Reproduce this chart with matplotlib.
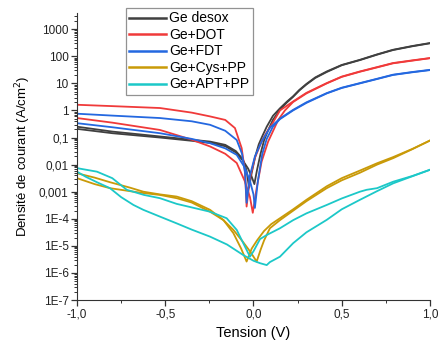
import matplotlib
matplotlib.use("Agg")
import matplotlib.pyplot as plt
from matplotlib.ticker import MultipleLocator, LogLocator, NullFormatter
import numpy as np

plt.rcParams['font.family'] = ['Liberation Sans', 'DejaVu Sans']

# Courbes J(V) : deux balayages par échantillon
# valeurs en log10 de la densité de courant (A/cm2)
v_desox_a = [-1.0, -0.8, -0.53, -0.35, -0.246, -0.16, -0.1, -0.06, -0.04, -0.025, -0.01, 0.01, 0.03, 0.05,
             0.075, 0.11, 0.15, 0.19, 0.224, 0.26, 0.3, 0.35, 0.415, 0.5, 0.603, 0.7, 0.79, 0.9, 1.0]
lj_desox_a = [-0.6, -0.78, -0.96, -1.08, -1.15, -1.27, -1.5, -1.8, -2.2, -2.85, -2.3, -1.7, -1.25, -0.95,
              -0.6, -0.2, 0.08, 0.33, 0.52, 0.76, 0.98, 1.22, 1.44, 1.68, 1.87, 2.07, 2.24, 2.38, 2.49]
v_desox_b = [-1.0, -0.8, -0.53, -0.35, -0.246, -0.16, -0.1, -0.06, -0.03, -0.01, 0.005, 0.02, 0.04, 0.06,
             0.085, 0.11, 0.15, 0.19, 0.224, 0.26, 0.3, 0.35, 0.415, 0.5, 0.603, 0.7, 0.79, 0.9, 1.0]
lj_desox_b = [-0.68, -0.84, -1.0, -1.12, -1.2, -1.32, -1.55, -1.85, -2.15, -2.45, -2.72, -2.2, -1.6, -1.1,
              -0.7, -0.35, 0.03, 0.3, 0.5, 0.74, 0.96, 1.2, 1.42, 1.67, 1.86, 2.06, 2.23, 2.37, 2.48]

v_dot_a = [-1.0, -0.8, -0.53, -0.35, -0.246, -0.16, -0.105, -0.067, -0.048, -0.039, -0.02, 0.008, 0.046,
           0.075, 0.103, 0.15, 0.224, 0.3, 0.415, 0.5, 0.603, 0.7, 0.79, 0.9, 1.0]
lj_dot_a = [0.21, 0.16, 0.09, -0.08, -0.22, -0.35, -0.65, -1.39, -2.26, -3.55, -2.49, -1.75, -1.15,
            -0.8, -0.53, 0.0, 0.33, 0.65, 1.01, 1.25, 1.44, 1.6, 1.75, 1.85, 1.935]
v_dot_b = [-1.0, -0.8, -0.53, -0.35, -0.246, -0.16, -0.095, -0.05, -0.02, -0.004, 0.018, 0.046, 0.083,
           0.14, 0.178, 0.224, 0.3, 0.415, 0.5, 0.603, 0.7, 0.79, 0.9, 1.0]
lj_dot_b = [-0.28, -0.45, -0.72, -1.08, -1.33, -1.6, -1.94, -2.6, -3.2, -3.78, -2.87, -1.89, -1.15,
            -0.35, 0.0, 0.31, 0.63, 1.0, 1.24, 1.43, 1.59, 1.74, 1.84, 1.93]

v_fdt_a = [-1.0, -0.8, -0.53, -0.35, -0.246, -0.16, -0.095, -0.065, -0.048, -0.039, -0.02, 0.008, 0.046,
           0.093, 0.15, 0.224, 0.3, 0.415, 0.5, 0.603, 0.7, 0.79, 0.9, 1.0]
lj_fdt_a = [-0.12, -0.19, -0.28, -0.4, -0.53, -0.75, -1.09, -1.6, -2.3, -3.41, -2.4, -1.7, -1.15,
            -0.64, -0.3, 0.02, 0.3, 0.64, 0.84, 1.01, 1.17, 1.32, 1.42, 1.50]
v_fdt_b = [-1.0, -0.8, -0.53, -0.35, -0.246, -0.16, -0.095, -0.05, -0.02, 0.0, 0.008, 0.025, 0.05,
           0.075, 0.11, 0.15, 0.224, 0.3, 0.415, 0.5, 0.603, 0.7, 0.79, 0.9, 1.0]
lj_fdt_b = [-0.47, -0.62, -0.84, -1.05, -1.21, -1.4, -1.64, -2.1, -2.6, -3.1, -3.6, -2.6, -1.6,
            -1.05, -0.6, -0.32, 0.0, 0.28, 0.63, 0.83, 1.0, 1.16, 1.31, 1.41, 1.49]

v_cys_a = [-1.0, -0.9, -0.813, -0.7, -0.624, -0.53, -0.435, -0.35, -0.246, -0.17, -0.114, -0.07, -0.039,
           -0.01, 0.02, 0.06, 0.1, 0.15, 0.225, 0.3, 0.415, 0.5, 0.603, 0.7, 0.792, 0.9, 1.0]
lj_cys_a = [-2.32, -2.48, -2.65, -2.85, -3.0, -3.1, -3.18, -3.35, -3.67, -4.05, -4.53, -5.1, -5.58,
            -5.1, -4.8, -4.45, -4.2, -3.98, -3.65, -3.3, -2.8, -2.5, -2.22, -1.95, -1.72, -1.42, -1.11]
v_cys_b = [-1.0, -0.9, -0.813, -0.7, -0.624, -0.53, -0.435, -0.35, -0.246, -0.17, -0.114, -0.06, -0.02,
           0.018, 0.04, 0.06, 0.093, 0.15, 0.225, 0.3, 0.415, 0.5, 0.603, 0.7, 0.792, 0.9, 1.0]
lj_cys_b = [-2.5, -2.72, -2.87, -2.98, -3.05, -3.12, -3.24, -3.4, -3.74, -4.05, -4.41, -4.85, -5.2,
            -5.58, -5.15, -4.8, -4.35, -4.05, -3.7, -3.35, -2.87, -2.58, -2.3, -2.0, -1.76, -1.43, -1.11]

v_apt_a = [-1.0, -0.887, -0.8, -0.718, -0.62, -0.53, -0.435, -0.35, -0.246, -0.152, -0.095, -0.058, -0.02,
           0.0, 0.037, 0.075, 0.15, 0.225, 0.3, 0.415, 0.5, 0.603, 0.641, 0.7, 0.792, 0.9, 1.0]
lj_apt_a = [-2.13, -2.26, -2.5, -2.93, -3.12, -3.24, -3.45, -3.58, -3.74, -3.98, -4.41, -4.9, -5.4,
            -5.2, -4.75, -4.6, -4.35, -4.05, -3.8, -3.49, -3.25, -3.0, -2.93, -2.87, -2.63, -2.42, -2.19]
v_apt_b = [-1.0, -0.95, -0.887, -0.813, -0.75, -0.68, -0.624, -0.53, -0.435, -0.35, -0.246, -0.15, -0.058,
           0.0, 0.037, 0.075, 0.093, 0.15, 0.225, 0.3, 0.415, 0.5, 0.603, 0.7, 0.792, 0.9, 1.0]
lj_apt_b = [-2.26, -2.45, -2.65, -2.87, -3.2, -3.49, -3.67, -3.92, -4.17, -4.4, -4.66, -4.95, -5.34,
            -5.55, -5.64, -5.71, -5.6, -5.4, -4.9, -4.5, -4.04, -3.65, -3.3, -2.98, -2.69, -2.43, -2.19]

noms = ['Ge desox', 'Ge+DOT', 'Ge+FDT', 'Ge+Cys+PP', 'Ge+APT+PP']
couleurs = ['#404040', '#f03a3a', '#2468e0', '#c99a08', '#1cc8c8']
courbes = [
    [(v_desox_a, lj_desox_a), (v_desox_b, lj_desox_b)],
    [(v_dot_a, lj_dot_a), (v_dot_b, lj_dot_b)],
    [(v_fdt_a, lj_fdt_a), (v_fdt_b, lj_fdt_b)],
    [(v_cys_a, lj_cys_a), (v_cys_b, lj_cys_b)],
    [(v_apt_a, lj_apt_a), (v_apt_b, lj_apt_b)],
]

y_ticks = [1e-7, 1e-6, 1e-5, 1e-4, 1e-3, 1e-2, 1e-1, 1, 10, 100, 1000]
y_labels = ['1E-7', '1E-6', '1E-5', '1E-4', '0,001', '0,01', '0,1', '1', '10', '100', '1000']
x_ticks = [-1.0, -0.5, 0.0, 0.5, 1.0]
x_labels = ['-1,0', '-0,5', '0,0', '0,5', '1,0']

fig = plt.figure(figsize=(4.46, 3.45), dpi=100)
ax = fig.add_axes([0.1726, 0.1304, 0.7915, 0.832])

for nom, coul, paire in zip(noms, couleurs, courbes):
    for i, (v, lj) in enumerate(paire):
        ax.plot(v, 10 ** np.array(lj), color=coul, lw=1.3,
                label=nom if i == 0 else None)

ax.set_yscale('log')
ax.set_xlim(-1.0, 1.0)
ax.set_ylim(1e-7, 10 ** 3.6)
ax.set_yticks(y_ticks, y_labels)
ax.yaxis.set_minor_locator(LogLocator(base=10, subs=range(2, 10), numticks=20))
ax.yaxis.set_minor_formatter(NullFormatter())
ax.set_xticks(x_ticks, x_labels)
ax.xaxis.set_minor_locator(MultipleLocator(0.25))

for s in ['top', 'right']:
    ax.spines[s].set_visible(False)
for s in ['left', 'bottom']:
    ax.spines[s].set_color('#333333')
ax.tick_params(which='major', direction='out', length=4, width=0.9, labelsize=8.5, colors='#333333',
               labelcolor='#222222', pad=2)
ax.tick_params(which='minor', direction='out', length=2, width=0.7, colors='#333333')

ax.set_xlabel('Tension (V)', fontsize=10.5, labelpad=4)
ax.set_ylabel('Densité de courant (A/cm$^2$)', fontsize=9.5, labelpad=4)

leg = ax.legend(loc='upper left', bbox_to_anchor=(126 / 446, 1 - 8 / 345), bbox_transform=fig.transFigure,
                fontsize=10, frameon=True, fancybox=False, borderaxespad=0, borderpad=0.25,
                handlelength=2.6, handletextpad=0.25, labelspacing=0.18)
leg.get_frame().set_edgecolor('#777777')
leg.get_frame().set_linewidth(0.9)
for h in leg.get_lines():
    h.set_linewidth(1.8)

fig.savefig('out.png', dpi=100)
